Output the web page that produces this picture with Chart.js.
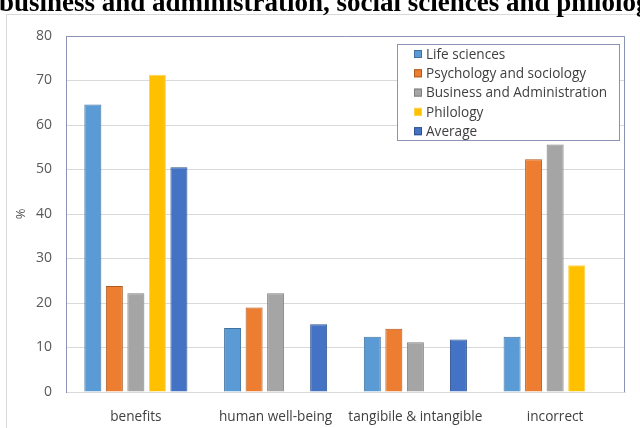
<!DOCTYPE html>
<html>
<head>
<meta charset="utf-8">
<script src="https://cdn.jsdelivr.net/npm/chart.js@4.4.1/dist/chart.umd.min.js"></script>
<style>
  html, body { margin: 0; padding: 0; background: #fff; }
  canvas { display: block; }
</style>
</head>
<body>
<canvas id="answersChart" width="640" height="428"></canvas>
<script>
const categories = ['benefits', 'human well-being', 'tangibile & intangible', 'incorrect'];
const lifeSciences = [64.6, 14.4, 12.4, 12.4];
const psychSociology = [23.8, 19.0, 14.2, 52.3];
const businessAdmin = [22.2, 22.2, 11.2, 55.6];
const philology = [71.3, null, null, 28.5];
const average = [50.5, 15.2, 11.8, null];
const yTicks = [0, 10, 20, 30, 40, 50, 60, 70, 80];

const titleText = 'business and administration, social sciences and philology';
const frameColor = '#8A93B5';
const gridColor = '#D9D9D9';
const uiFont = "'Open Sans', sans-serif";

// frame, clipped title, outer border and in-plot legend
const decorPlugin = {
  id: 'decor',
  beforeDraw(chart) {
    const ctx = chart.ctx;
    ctx.save();
    ctx.fillStyle = '#fff';
    ctx.fillRect(0, 0, chart.width, chart.height);
    ctx.strokeStyle = gridColor;
    ctx.lineWidth = 1;
    ctx.beginPath();
    ctx.moveTo(6.5, chart.height);
    ctx.lineTo(6.5, 14.5);
    ctx.lineTo(chart.width, 14.5);
    ctx.stroke();
    ctx.fillStyle = '#000';
    ctx.font = "bold 27px 'Liberation Serif', serif";
    ctx.textBaseline = 'alphabetic';
    ctx.fillText(titleText, -1, 11);
    ctx.restore();
  },
  afterDatasetsDraw(chart) {
    const { ctx, chartArea } = chart;
    ctx.save();
    ctx.strokeStyle = frameColor;
    ctx.lineWidth = 1;
    ctx.beginPath();
    ctx.moveTo(chartArea.left + 0.5, chartArea.bottom);
    ctx.lineTo(chartArea.left + 0.5, chartArea.top + 0.5);
    ctx.lineTo(chartArea.right - 0.5, chartArea.top + 0.5);
    ctx.lineTo(chartArea.right - 0.5, chartArea.bottom);
    ctx.stroke();

    // legend box
    const bx = 397.5, by = 44.5, bw = 222, bh = 96;
    ctx.fillStyle = '#fff';
    ctx.fillRect(bx, by, bw, bh);
    ctx.strokeRect(bx, by, bw, bh);
    ctx.font = '13.6px ' + uiFont;
    ctx.textBaseline = 'middle';
    chart.data.datasets.forEach((ds, i) => {
      const cy = 54 + i * 19.3;
      ctx.fillStyle = ds.backgroundColor;
      ctx.fillRect(414, cy - 4, 8, 8);
      ctx.strokeStyle = ds.borderColor;
      ctx.strokeRect(414.5, cy - 3.5, 7, 7);
      ctx.fillStyle = '#404040';
      ctx.fillText(ds.label, 426, cy + 1);
    });
    ctx.restore();
  }
};

const ctx = document.getElementById('answersChart');
new Chart(ctx, {
  type: 'bar',
  data: {
    labels: categories,
    datasets: [
      { label: 'Life sciences', data: lifeSciences, backgroundColor: '#5B9BD5', borderColor: '#41719C' },
      { label: 'Psychology and sociology', data: psychSociology, backgroundColor: '#ED7D31', borderColor: '#AE5A21' },
      { label: 'Business and Administration', data: businessAdmin, backgroundColor: '#A5A5A5', borderColor: '#7F7F7F' },
      { label: 'Philology', data: philology, backgroundColor: '#FFC000', borderColor: '#FFD24D' },
      { label: 'Average', data: average, backgroundColor: '#4472C4', borderColor: '#2F528F' }
    ]
  },
  options: {
    responsive: false,
    animation: false,
    devicePixelRatio: 1,
    layout: { padding: { left: 0, right: 15, top: 36, bottom: 0 } },
    datasets: {
      bar: { borderWidth: 1, categoryPercentage: 0.77, barPercentage: 0.79 }
    },
    plugins: {
      legend: { display: false },
      tooltip: { enabled: false }
    },
    scales: {
      x: {
        grid: { display: false },
        border: { color: gridColor },
        ticks: {
          color: '#404040',
          font: { family: uiFont, size: 13.6 },
          padding: 9,
          autoSkip: false,
          maxRotation: 0,
          minRotation: 0
        },
        afterFit: scale => { scale.height = 36; }
      },
      y: {
        min: 0,
        max: 80,
        afterBuildTicks: scale => { scale.ticks = yTicks.map(v => ({ value: v })); },
        grid: { color: gridColor, drawTicks: false },
        border: { color: frameColor },
        ticks: { color: '#595959', font: { family: uiFont, size: 14 }, padding: 14 },
        title: { display: true, text: '%', color: '#595959', font: { family: uiFont, size: 13 }, padding: { top: 13, bottom: 0 } },
        afterFit: scale => { scale.width = 66; }
      }
    }
  },
  plugins: [decorPlugin]
});
</script>
</body>
</html>
